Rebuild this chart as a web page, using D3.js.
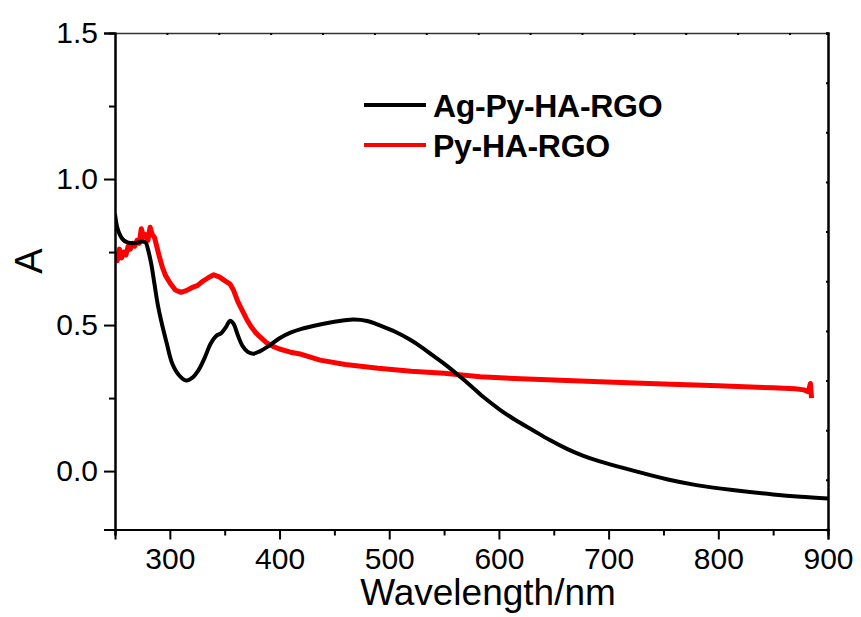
<!DOCTYPE html>
<html>
<head>
<meta charset="utf-8">
<script src="https://cdn.jsdelivr.net/npm/d3@7"></script>
<style>
  body { margin: 0; background: #fff; }
  text { font-family: "Liberation Sans", Arial, sans-serif; }
</style>
</head>
<body>
<div id="chart"></div>
<script>
// Data (wavelength in nm, absorbance A)
var agWave = [250, 252, 255, 258, 262, 266, 270, 275, 278, 280, 283, 286, 289, 293, 297, 302, 308, 315, 320, 326, 332, 337, 342, 347, 351, 355, 358, 362, 366, 371, 376, 382, 390, 400, 410, 420, 437, 450, 467, 480, 492, 505, 518, 530, 540, 552, 565, 575, 587, 601, 615, 631, 646, 662, 677, 692, 720, 753, 780, 813, 850, 875, 900];
var agAbs  = [0.88, 0.835, 0.805, 0.79, 0.782, 0.78, 0.782, 0.786, 0.782, 0.76, 0.71, 0.64, 0.57, 0.50, 0.44, 0.37, 0.33, 0.31, 0.318, 0.345, 0.39, 0.435, 0.462, 0.473, 0.492, 0.515, 0.505, 0.465, 0.43, 0.408, 0.402, 0.41, 0.428, 0.455, 0.474, 0.487, 0.502, 0.511, 0.519, 0.514, 0.498, 0.478, 0.452, 0.423, 0.395, 0.362, 0.322, 0.29, 0.25, 0.21, 0.175, 0.14, 0.107, 0.076, 0.052, 0.033, 0.004, -0.028, -0.048, -0.065, -0.08, -0.088, -0.094];

var pyWave = [250, 252, 254, 256, 258, 260, 262, 264, 266, 268, 270, 272, 274, 276, 278, 280, 282, 284, 286, 288, 290, 293, 296, 300, 305, 310, 315, 320, 325, 330, 335, 340, 345, 350, 355, 358, 362, 366, 370, 374, 378, 382, 388, 394, 400, 410, 420, 437, 460, 490, 520, 550, 583, 620, 650, 692, 750, 800, 850, 870, 878, 882, 884, 885];
var pyAbs  = [0.75, 0.72, 0.76, 0.73, 0.75, 0.74, 0.77, 0.76, 0.78, 0.77, 0.79, 0.78, 0.83, 0.80, 0.81, 0.79, 0.835, 0.81, 0.80, 0.77, 0.74, 0.70, 0.67, 0.645, 0.62, 0.612, 0.618, 0.628, 0.635, 0.65, 0.662, 0.672, 0.665, 0.652, 0.64, 0.62, 0.58, 0.55, 0.52, 0.495, 0.475, 0.46, 0.44, 0.427, 0.418, 0.407, 0.40, 0.38, 0.365, 0.352, 0.342, 0.335, 0.323, 0.316, 0.312, 0.306, 0.298, 0.292, 0.285, 0.282, 0.278, 0.272, 0.30, 0.25];

var seriesNames = ["Ag-Py-HA-RGO", "Py-HA-RGO"];
var seriesColors = ["#000000", "#ff0000"];

var xMajorTicks = [300, 400, 500, 600, 700, 800, 900];
var xMinorTicks = [250, 350, 450, 550, 650, 750, 850];
var yMajorTicks = [0.0, 0.5, 1.0, 1.5];
var yMinorTicks = [0.25, 0.75, 1.25];

// Define svg dimensions
var svgWidth = 861;
var svgHeight = 617;

var chartMargin = { top: 33, right: 33, bottom: 87.5, left: 115 };
var chartWidth = svgWidth - chartMargin.left - chartMargin.right;
var chartHeight = svgHeight - chartMargin.top - chartMargin.bottom;

var svg = d3.select("#chart")
  .append("svg")
  .attr("width", svgWidth)
  .attr("height", svgHeight);

var chartGroup = svg.append("g")
  .attr("transform", `translate(${chartMargin.left}, ${chartMargin.top})`);

// Scales
var xLinearScale = d3.scaleLinear().domain([250, 900]).range([0, chartWidth]);
var yLinearScale = d3.scaleLinear().domain([-0.2, 1.5]).range([chartHeight, 0]);

// Clip so lines stay inside the frame
chartGroup.append("clipPath").attr("id", "clip")
  .append("rect").attr("width", chartWidth).attr("height", chartHeight);

// Lines
var agData = agWave.map((w, i) => ({ w: w, a: agAbs[i] }));
var pyData = pyWave.map((w, i) => ({ w: w, a: pyAbs[i] }));

var smoothLine = d3.line()
  .x(d => xLinearScale(d.w))
  .y(d => yLinearScale(d.a))
  .curve(d3.curveCatmullRom.alpha(0.5));

var rawLine = d3.line()
  .x(d => xLinearScale(d.w))
  .y(d => yLinearScale(d.a));

var lineGroup = chartGroup.append("g").attr("clip-path", "url(#clip)");

lineGroup.append("path")
  .datum(pyData)
  .attr("fill", "none")
  .attr("stroke", seriesColors[1])
  .attr("stroke-width", 5)
  .attr("stroke-linejoin", "round")
  .attr("d", rawLine);

lineGroup.append("path")
  .datum(agData)
  .attr("fill", "none")
  .attr("stroke", seriesColors[0])
  .attr("stroke-width", 4)
  .attr("d", smoothLine);

// Bottom axis (major + minor)
var bottomAxis = d3.axisBottom(xLinearScale)
  .tickValues(xMajorTicks)
  .tickSize(10)
  .tickPadding(8)
  .tickFormat(d3.format("d"));

var xAxis = chartGroup.append("g")
  .attr("transform", `translate(0, ${chartHeight})`)
  .call(bottomAxis);

chartGroup.append("g")
  .attr("transform", `translate(0, ${chartHeight})`)
  .call(d3.axisBottom(xLinearScale).tickValues(xMinorTicks).tickSize(6).tickFormat(""));

// Left axis (major + minor)
var leftAxis = d3.axisLeft(yLinearScale)
  .tickValues(yMajorTicks)
  .tickSize(11)
  .tickPadding(6)
  .tickFormat(d3.format(".1f"));

var yAxis = chartGroup.append("g").call(leftAxis);

chartGroup.append("g")
  .call(d3.axisLeft(yLinearScale).tickValues(yMinorTicks).tickSize(6).tickFormat(""));

// Top and right frame with tiny inner ticks
var topTicks = d3.range(0, 14).map(i => 250 + i * 47.3).filter(v => v <= 900);
chartGroup.append("g")
  .attr("class", "top-axis")
  .call(d3.axisTop(xLinearScale).tickValues(topTicks).tickSize(-2).tickFormat(""));

var rightTicks = d3.range(0, 11).map(i => 1.5 - i * 0.17).filter(v => v >= -0.2);
chartGroup.append("g")
  .attr("class", "right-axis")
  .attr("transform", `translate(${chartWidth}, 0)`)
  .call(d3.axisRight(yLinearScale).tickValues(rightTicks).tickSize(-2).tickFormat(""));

// Axis styling
chartGroup.selectAll(".domain").attr("stroke", "#000").attr("stroke-width", 2);
chartGroup.selectAll(".tick line").attr("stroke", "#000").attr("stroke-width", 2);
chartGroup.select(".top-axis .domain").attr("stroke", "#333").attr("stroke-width", 1.5);
chartGroup.select(".right-axis .domain").attr("stroke-width", 2.5);
chartGroup.selectAll(".tick text")
  .attr("fill", "#000")
  .style("font-size", "30px")
  .style("font-family", "'Liberation Sans', Arial, sans-serif");

// Axis titles
svg.append("text")
  .attr("x", 488)
  .attr("y", 605)
  .attr("text-anchor", "middle")
  .style("font-size", "37px")
  .text("Wavelength/nm");

svg.append("text")
  .attr("transform", "translate(42, 261) rotate(-90)")
  .attr("text-anchor", "middle")
  .style("font-size", "38px")
  .text("A");

// Legend
var legendRows = [105, 145];
var legend = svg.append("g");
seriesNames.forEach((name, i) => {
  legend.append("line")
    .attr("x1", 364).attr("x2", 426)
    .attr("y1", legendRows[i]).attr("y2", legendRows[i])
    .attr("stroke", seriesColors[i])
    .attr("stroke-width", 4);
  legend.append("text")
    .attr("x", 433)
    .attr("y", legendRows[i])
    .attr("dy", "0.36em")
    .style("font-size", "32px")
    .style("font-weight", "bold")
    .style("letter-spacing", "-0.3px")
    .text(name);
});
</script>
</body>
</html>
